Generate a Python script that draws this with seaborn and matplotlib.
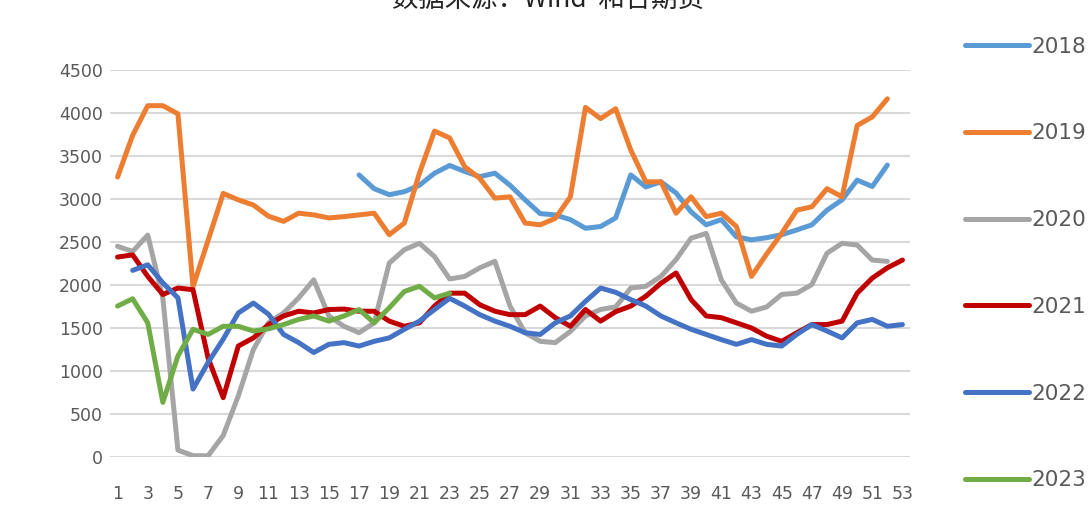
import numpy as np
import pandas as pd
import matplotlib
matplotlib.use("Agg")
import matplotlib.pyplot as plt
import seaborn as sns

# week numbers on the x axis
weeks = list(range(1, 54))
nan = np.nan

# values (NaN where a year has no value)
y2018 = [nan] * 16 + [
    3280, 3120, 3050, 3085, 3160, 3300, 3390, 3320, 3260, 3300,
    3160, 2990, 2830, 2815, 2760, 2660, 2680, 2780, 3280, 3140,
    3200, 3070, 2850, 2700, 2760, 2560, 2525, 2550, 2585, 2640,
    2700, 2870, 2990, 3220, 3145, 3395, nan]
y2019 = [
    3255, 3740, 4085, 4085, 3990, 1980, 2520, 3065, 2990, 2930,
    2800, 2740, 2835, 2815, 2780, 2795, 2815, 2835, 2585, 2720,
    3300, 3790, 3710, 3375, 3240, 3010, 3025, 2720, 2700, 2775,
    3025, 4065, 3935, 4050, 3570, 3200, 3200, 2835, 3025, 2795,
    2835, 2680, 2100, 2360, 2600, 2870, 2910, 3120, 3025, 3855,
    3955, 4165, nan]
y2020 = [
    2450, 2390, 2580, 1850, 80, 15, 15, 250, 710, 1250,
    1560, 1675, 1850, 2060, 1640, 1520, 1445, 1560, 2255, 2410,
    2485, 2330, 2070, 2100, 2200, 2275, 1755, 1445, 1345, 1330,
    1460, 1640, 1715, 1745, 1965, 1985, 2100, 2295, 2545, 2600,
    2060, 1790, 1695, 1745, 1890, 1905, 2005, 2370, 2485, 2465,
    2290, 2275, nan]
y2021 = [
    2325, 2350, 2100, 1890, 1965, 1945, 1150, 690, 1290, 1385,
    1540, 1640, 1695, 1675, 1715, 1720, 1695, 1695, 1580, 1520,
    1560, 1755, 1905, 1905, 1770, 1695, 1655, 1655, 1755, 1620,
    1520, 1715, 1580, 1690, 1755, 1870, 2020, 2140, 1830, 1640,
    1620, 1560, 1500, 1405, 1345, 1445, 1540, 1540, 1580, 1905,
    2080, 2200, 2290]
y2022 = [nan] + [
    2170, 2235, 2025, 1850, 790, 1100, 1370, 1675, 1790,
    1660, 1425, 1330, 1215, 1310, 1330, 1290, 1345, 1385, 1485,
    1580, 1715, 1845, 1755, 1655, 1580, 1520, 1445, 1425, 1560,
    1640, 1810, 1965, 1915, 1830, 1755, 1640, 1560, 1485, 1425,
    1365, 1310, 1365, 1310, 1290, 1425, 1540, 1465, 1385, 1560,
    1600, 1520, 1540]
y2023 = [
    1755, 1840, 1560, 635, 1175, 1485, 1425, 1520, 1520, 1465,
    1490, 1540, 1600, 1640, 1580, 1640, 1715, 1560, 1735, 1925,
    1985, 1850, 1905] + [nan] * 30

years = ["2018", "2019", "2020", "2021", "2022", "2023"]
series = [y2018, y2019, y2020, y2021, y2022, y2023]
colors = ["#5B9BD5", "#ED7D31", "#A5A5A5", "#C00000", "#4472C4", "#70AD47"]
ytick_vals = list(range(0, 4501, 500))
xtick_vals = list(range(1, 54, 2))
title = "数据来源：Wind  和合期货"

# long form table for seaborn
df = pd.concat([
    pd.DataFrame({"week": weeks, "value": vals, "year": yr})
    for yr, vals in zip(years, series)
]).dropna()

sns.set_style("white")
plt.rcParams["font.family"] = ["DejaVu Sans"]

fig = plt.figure(figsize=(10.92, 5.32), dpi=100)
ax = fig.add_axes([110 / 1092, 1 - 457 / 532, 800 / 1092, 387 / 532])

sns.lineplot(data=df, x="week", y="value", hue="year", hue_order=years,
             palette=dict(zip(years, colors)), linewidth=3.6, ax=ax,
             estimator=None, sort=True)
for line in ax.get_lines():
    line.set_solid_joinstyle("round")
    line.set_solid_capstyle("round")

ax.set_xlim(0.5, 53.5)
ax.set_ylim(0, 4500)
ax.set_yticks(ytick_vals)
ax.set_xticks(xtick_vals)
ax.set_xticklabels([str(w) for w in xtick_vals])
ax.grid(axis="y", color="#D9D9D9", linewidth=1.5)
ax.set_axisbelow(True)
for s in ax.spines.values():
    s.set_visible(False)
ax.tick_params(axis="both", length=0, labelsize=12.5, labelcolor="#595959")
ax.tick_params(axis="x", pad=20)
ax.tick_params(axis="y", pad=5)
ax.set_xlabel("")
ax.set_ylabel("")

handles, labels = ax.get_legend_handles_labels()
ax.legend_.remove()
leg = fig.legend(handles, labels, loc="upper left",
                 bbox_to_anchor=(956 / 1092, 1 - 28 / 532),
                 frameon=False, fontsize=15.5, handlelength=3.0,
                 handletextpad=0.1, labelspacing=3.1, borderaxespad=0)
for t in leg.get_texts():
    t.set_color("#595959")
for h in leg.get_lines():
    h.set_linewidth(3.6)

fig.text(0.502, 1 - 7 / 532, title, ha="center", va="baseline",
         fontsize=19, color="#222222",
         family=["Noto Sans CJK SC", "DejaVu Sans"])

fig.savefig("out.png", dpi=100)
